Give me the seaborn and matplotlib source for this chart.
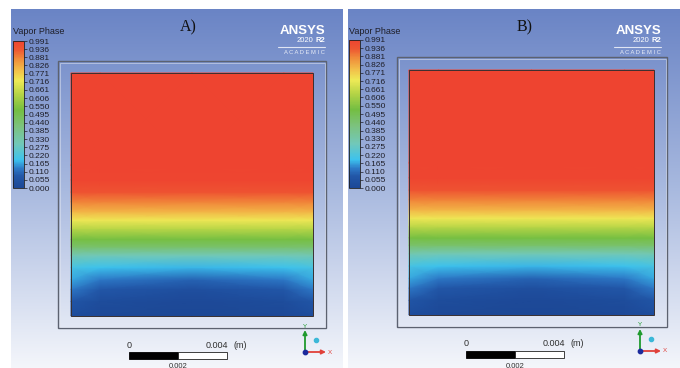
import numpy as np
import matplotlib
matplotlib.use("Agg")
import matplotlib.pyplot as plt
from matplotlib.colors import LinearSegmentedColormap
from matplotlib.patches import Rectangle
import seaborn as sns

W, H = 680, 368

# legend levels printed next to the colour bar
legend_ticks = [0.000, 0.055, 0.110, 0.165, 0.220, 0.275, 0.330, 0.385, 0.440, 0.495,
                0.550, 0.606, 0.661, 0.716, 0.771, 0.826, 0.881, 0.936, 0.991]

# vapour fraction: height (0 = bottom, 1 = top) x column position
row_heights = [0.00, 0.06, 0.11, 0.15, 0.20, 0.25, 0.285, 0.315, 0.36, 0.395,
               0.43, 0.47, 0.51, 0.56, 0.62, 1.00]
col_positions = [0.0, 0.12, 0.5, 0.88, 1.0]
vapor_edge = [0.03, 0.07, 0.13, 0.17, 0.21, 0.31, 0.45, 0.53, 0.64, 0.73,
              0.81, 0.88, 0.945, 0.985, 0.99, 0.991]
vapor_inner = [0.01, 0.03, 0.08, 0.13, 0.19, 0.30, 0.45, 0.53, 0.64, 0.73,
               0.81, 0.88, 0.945, 0.985, 0.99, 0.991]
vapor_center = [0.00, 0.01, 0.04, 0.10, 0.18, 0.30, 0.45, 0.53, 0.64, 0.73,
                0.81, 0.88, 0.945, 0.985, 0.99, 0.991]

panel_labels = ["A)", "B)"]
scale_labels = ["0", "0.002", "0.004", "(m)"]

sns.set_theme(style="white")
plt.rcParams["font.family"] = ["Liberation Sans", "DejaVu Sans"]

cmap = LinearSegmentedColormap.from_list("ansys", [
    (0.00, "#1c4896"), (0.08, "#2257a8"), (0.13, "#2d78c6"), (0.19, "#3cc2ee"),
    (0.30, "#72c8b8"), (0.42, "#7cc27e"), (0.53, "#74be42"), (0.64, "#b6d446"),
    (0.73, "#eeea56"), (0.80, "#f2c04a"), (0.88, "#f08c3a"), (0.94, "#ee5832"),
    (1.00, "#ee4430"),
])
bg_cmap = LinearSegmentedColormap.from_list("bg", ["#6a84c5", "#a8b9df", "#f4f6fb"])

panels = [
    dict(bg=(11, 9, 343, 368), cbar=(13, 41, 24, 188), title=(13, 31),
         frame=(58, 61, 326, 328), domain=(71, 73, 313, 316), label=(188, 27),
         logo=325, bar=(129, 227, 352, 359), triad=(305, 352)),
    dict(bg=(348, 9, 680, 368), cbar=(349, 40, 360, 188), title=(349, 31),
         frame=(397, 57, 667, 327), domain=(409, 70, 654, 315), label=(525, 27),
         logo=661, bar=(466, 564, 351, 358), triad=(640, 351)),
]


def rect(x0, y0, x1, y1):
    return [x0 / W, 1 - y1 / H, (x1 - x0) / W, (y1 - y0) / H]


fig = plt.figure(figsize=(W / 100, H / 100), dpi=100)
ax = fig.add_axes([0, 0, 1, 1])
ax.set_xlim(0, W)
ax.set_ylim(H, 0)
ax.axis("off")

field = np.array([vapor_edge, vapor_inner, vapor_center, vapor_inner, vapor_edge]).T
grad = np.linspace(0, 1, 256).reshape(-1, 1)

for label, p in zip(panel_labels, panels):
    x0, y0, x1, y1 = p["bg"]
    ax.imshow(grad, cmap=bg_cmap, aspect="auto", extent=(x0, x1, y1, y0),
              origin="upper", zorder=0)

    fx0, fy0, fx1, fy1 = p["frame"]
    ax.add_patch(Rectangle((fx0, fy0), fx1 - fx0, fy1 - fy0, fill=False,
                           ec="#5c6270", lw=1.0, zorder=2))
    ax.add_patch(Rectangle((fx0 + 1.5, fy0 + 1.5), fx1 - fx0 - 3, fy1 - fy0 - 3,
                           fill=False, ec="#e4e8f2", lw=0.6, alpha=0.6, zorder=2))

    dx0, dy0, dx1, dy1 = p["domain"]
    X, Y = np.meshgrid(dx0 + np.array(col_positions) * (dx1 - dx0),
                       dy1 - np.array(row_heights) * (dy1 - dy0))
    mesh = ax.pcolormesh(X, Y, field, cmap=cmap, vmin=0.0, vmax=0.991,
                         shading="gouraud", zorder=3)
    ax.add_patch(Rectangle((dx0, dy0), dx1 - dx0, dy1 - dy0, fill=False,
                           ec="#3a3030", lw=0.7, zorder=4))

    # legend
    cax = fig.add_axes(rect(*p["cbar"]))
    cb = fig.colorbar(mesh, cax=cax, ticks=legend_ticks)
    cb.ax.set_yticklabels([f"{t:.3f}" for t in legend_ticks])
    cb.ax.tick_params(labelsize=6, length=2, width=0.5, pad=1.5,
                      colors="#1e1e28", direction="out")
    cb.outline.set_linewidth(0.6)
    cb.outline.set_edgecolor("#202020")
    tx, ty = p["title"]
    ax.text(tx, ty, "Vapor Phase", fontsize=6.5, color="#1e1e28",
            ha="left", va="center", zorder=5)

    lx, ly = p["label"]
    ax.text(lx, ly, label, fontsize=11.5, family=["Liberation Serif", "DejaVu Serif"],
            color="#111111", ha="center", va="center", zorder=5)

    # logo
    r = p["logo"]
    ax.text(r, 31, "ANSYS", fontsize=9.5, fontweight="bold", color="white",
            ha="right", va="center", zorder=5)
    ax.text(r - 11.5, 41, "2020", fontsize=5.5, color="white", ha="right",
            va="center", zorder=5)
    ax.text(r, 41, "R2", fontsize=5.5, fontweight="bold", color="white",
            ha="right", va="center", zorder=5)
    ax.plot([r - 47, r], [47, 47], color="#dfe5f3", lw=0.8, zorder=5)
    ax.text(r, 53, "A C A D E M I C", fontsize=4.2, color="#e6ebf6",
            ha="right", va="center", zorder=5)

    # scale bar
    bx0, bx1, by0, by1 = p["bar"]
    bm = (bx0 + bx1) / 2
    ax.add_patch(Rectangle((bx0, by0), bm - bx0, by1 - by0, fc="black",
                           ec="black", lw=0.6, zorder=5))
    ax.add_patch(Rectangle((bm, by0), bx1 - bm, by1 - by0, fc="white",
                           ec="#202020", lw=0.6, zorder=5))
    ax.text(bx0, by0 - 7, scale_labels[0], fontsize=6.5, color="#303030",
            ha="center", va="center", zorder=5)
    ax.text(bm, 367.5, scale_labels[1], fontsize=5.5, color="#303030",
            ha="center", va="baseline", zorder=5)
    ax.text(bx1 - 10, by0 - 7, scale_labels[2], fontsize=6.5, color="#303030",
            ha="center", va="center", zorder=5)
    ax.text(bx1 + 13, by0 - 7, scale_labels[3], fontsize=6.5, color="#303030",
            ha="center", va="center", zorder=5)

    # axis triad
    ox, oy = p["triad"]
    ax.annotate("", xy=(ox, oy - 22), xytext=(ox, oy),
                arrowprops=dict(arrowstyle="-|>", color="#1f9a2e", lw=1.3,
                                mutation_scale=6, shrinkA=0, shrinkB=0), zorder=6)
    ax.annotate("", xy=(ox + 21, oy), xytext=(ox, oy),
                arrowprops=dict(arrowstyle="-|>", color="#e0403a", lw=1.3,
                                mutation_scale=6, shrinkA=0, shrinkB=0), zorder=6)
    ax.scatter([ox], [oy], s=10, color="#1c2a9c", zorder=7)
    ax.scatter([ox + 11], [oy - 12], s=9, color="#3cb8d8", zorder=7)
    ax.text(ox, oy - 26, "Y", fontsize=4.5, color="#1f9a2e", ha="center",
            va="center", zorder=6)
    ax.text(ox + 25, oy, "X", fontsize=4.5, color="#e0403a", ha="center",
            va="center", zorder=6)

fig.savefig("out.png", dpi=100)
